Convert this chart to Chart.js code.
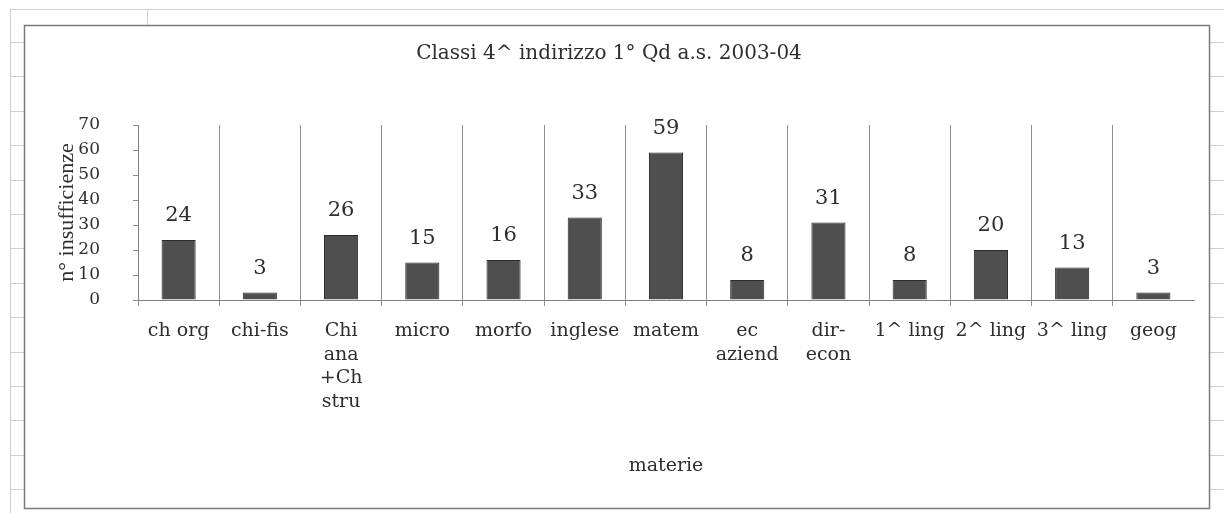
<!DOCTYPE html>
<html>
<head>
<meta charset="utf-8">
<script src="https://cdn.jsdelivr.net/npm/chart.js@4"></script>
<style>
  html, body { margin: 0; padding: 0; background: #fff; }
  #c { display: block; }
</style>
</head>
<body>
<canvas id="c" width="1224" height="513"></canvas>
<script>
// ---- data ----
const categories = [
  "ch org", "chi-fis", ["Chi", "ana", "+Ch", "stru"], "micro", "morfo", "inglese",
  "matem", ["ec", "aziend"], ["dir-", "econ"], "1^ ling", "2^ ling", "3^ ling", "geog"
];
const insufficienze = [24, 3, 26, 15, 16, 33, 59, 8, 31, 8, 20, 13, 3];
const yTicks = [0, 10, 20, 30, 40, 50, 60, 70];
const chartTitle = "Classi 4^ indirizzo 1° Qd a.s. 2003-04";
const xTitle = "materie";
const yTitle = "n° insufficienze";

const SERIF = "'DejaVu Serif', 'Liberation Serif', serif";
const TEXT = '#2e2e2e';
const GRID = '#8f8f8f';
const NONE = 'rgba(0,0,0,0)';

const pagePlugin = {
  id: 'page',
  beforeDraw(chart) {
    const ctx = chart.ctx;
    ctx.save();
    ctx.fillStyle = '#fff';
    ctx.fillRect(0, 0, chart.width, chart.height);
    // faint spreadsheet lines around the chart object
    ctx.strokeStyle = '#cfcfcf';
    ctx.lineWidth = 1;
    ctx.beginPath();
    ctx.moveTo(10, 9.5); ctx.lineTo(1224, 9.5);
    ctx.moveTo(10.5, 9); ctx.lineTo(10.5, 513);
    ctx.moveTo(147.5, 9); ctx.lineTo(147.5, 25);
    for (let y = 42; y < 513; y += 34.4) {
      const yy = Math.round(y) + 0.5;
      ctx.moveTo(10, yy); ctx.lineTo(24, yy);
      ctx.moveTo(1210, yy); ctx.lineTo(1224, yy);
    }
    ctx.stroke();
    ctx.restore();
  },
  afterDraw(chart) {
    const ctx = chart.ctx;
    ctx.save();
    ctx.strokeStyle = '#7a7a7a';
    ctx.lineWidth = 1.5;
    ctx.strokeRect(24.5, 25.5, 1185, 483);
    ctx.restore();
  }
};

const valueLabels = {
  id: 'valueLabels',
  afterDatasetsDraw(chart) {
    const ctx = chart.ctx;
    ctx.save();
    ctx.font = "21px " + SERIF;
    ctx.fillStyle = TEXT;
    ctx.textAlign = 'center';
    ctx.textBaseline = 'alphabetic';
    chart.data.datasets.forEach((ds, di) => {
      chart.getDatasetMeta(di).data.forEach((bar, i) => {
        ctx.fillText(String(ds.data[i]), bar.x, bar.y - 19);
      });
    });
    ctx.restore();
  }
};

new Chart(document.getElementById('c'), {
  type: 'bar',
  data: {
    labels: categories,
    datasets: [{
      label: yTitle,
      data: insufficienze,
      backgroundColor: '#4f4f4f',
      borderColor: '#2a2a2a',
      borderWidth: 1,
      categoryPercentage: 1,
      barPercentage: 0.42
    }]
  },
  options: {
    responsive: false,
    devicePixelRatio: 1,
    animation: false,
    layout: { padding: { left: 24, right: 30, top: 25, bottom: 36 } },
    plugins: {
      legend: { display: false },
      tooltip: { enabled: false },
      title: {
        display: true,
        text: chartTitle,
        color: TEXT,
        font: { family: SERIF, size: 20, weight: 'normal', lineHeight: 1.2 },
        padding: { top: 17, bottom: 59 }
      }
    },
    scales: {
      x: {
        offset: true,
        grid: {
          offset: true,
          color: (c) => (c.type === 'tick' ? GRID : NONE),
          tickColor: (c) => (c.type === 'tick' ? GRID : NONE),
          lineWidth: 1,
          drawTicks: true,
          tickLength: 6
        },
        border: { display: true, color: '#808080', width: 1 },
        ticks: {
          color: TEXT,
          font: { family: SERIF, size: 19, lineHeight: 1.25 },
          padding: 13,
          maxRotation: 0,
          minRotation: 0,
          autoSkip: false
        },
        title: {
          display: true,
          text: xTitle,
          color: TEXT,
          font: { family: SERIF, size: 19, lineHeight: 1.2 },
          padding: { top: 0, bottom: 0 }
        },
        afterFit(scale) { scale.height = 513 - 36 - 300; }
      },
      y: {
        min: 0,
        max: 70,
        afterBuildTicks(scale) { scale.ticks = yTicks.map(v => ({ value: v })); },
        grid: {
          drawOnChartArea: false,
          drawTicks: true,
          tickLength: 5,
          color: GRID,
          tickColor: GRID
        },
        border: { display: true, color: '#808080', width: 1 },
        ticks: {
          color: TEXT,
          font: { family: SERIF, size: 17 },
          padding: 33
        },
        title: {
          display: true,
          text: yTitle,
          color: TEXT,
          font: { family: "'Liberation Serif', serif", size: 22, lineHeight: 1.2 },
          padding: { top: 30, bottom: 0 }
        },
        afterFit(scale) { scale.width = 114; }
      }
    }
  },
  plugins: [pagePlugin, valueLabels]
});
</script>
</body>
</html>
